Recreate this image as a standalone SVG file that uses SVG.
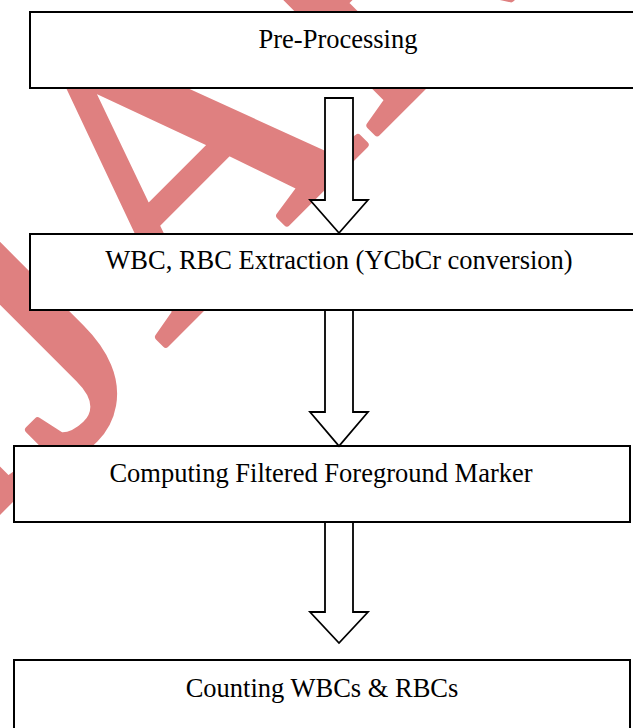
<svg xmlns="http://www.w3.org/2000/svg" width="633" height="728" viewBox="0 0 633 728">
<style>
.box{fill:#ffffff;stroke:#000000;stroke-width:2}
.lbl{font-family:"Liberation Serif","Times New Roman",serif;font-size:26.5px;fill:#000000;text-anchor:middle}
.arr{fill:#ffffff;stroke:#000000;stroke-width:1.8;stroke-linejoin:miter}
.wm{font-family:"Liberation Serif","Times New Roman",serif;font-size:400px;fill:#df8080;stroke:#df8080;stroke-width:7;stroke-linejoin:round}
</style>
<rect x="0" y="0" width="633" height="728" fill="#ffffff"/>
<g id="watermark">
<text class="wm" transform="translate(163,347) rotate(-45)" x="-288.8 -162 0 288.8" y="0 13 0 0">IJAR</text>
</g>
<g id="node-preprocessing">
<rect class="box" x="30" y="12" width="640" height="76"/>
<text class="lbl" x="338" y="48">Pre-Processing</text>
</g>
<g id="node-extraction">
<rect class="box" x="30" y="234" width="640" height="76"/>
<text class="lbl" x="339" y="269">WBC, RBC Extraction (YCbCr conversion)</text>
</g>
<g id="node-marker">
<rect class="box" x="14" y="446" width="616" height="76"/>
<text class="lbl" x="321" y="482">Computing Filtered Foreground Marker</text>
</g>
<g id="node-counting">
<rect class="box" x="14" y="660" width="616" height="100"/>
<text class="lbl" x="322" y="697">Counting WBCs &amp; RBCs</text>
</g>
<g id="connectors">
<polygon class="arr" points="325,98 353,98 353,200 368,200 339,233 310,200 325,200"/>
<polygon class="arr" points="325,310 353,310 353,412 368,412 339,446 310,412 325,412"/>
<polygon class="arr" points="325,522 353,522 353,612 368,612 339,643 310,612 325,612"/>
</g>
</svg>
